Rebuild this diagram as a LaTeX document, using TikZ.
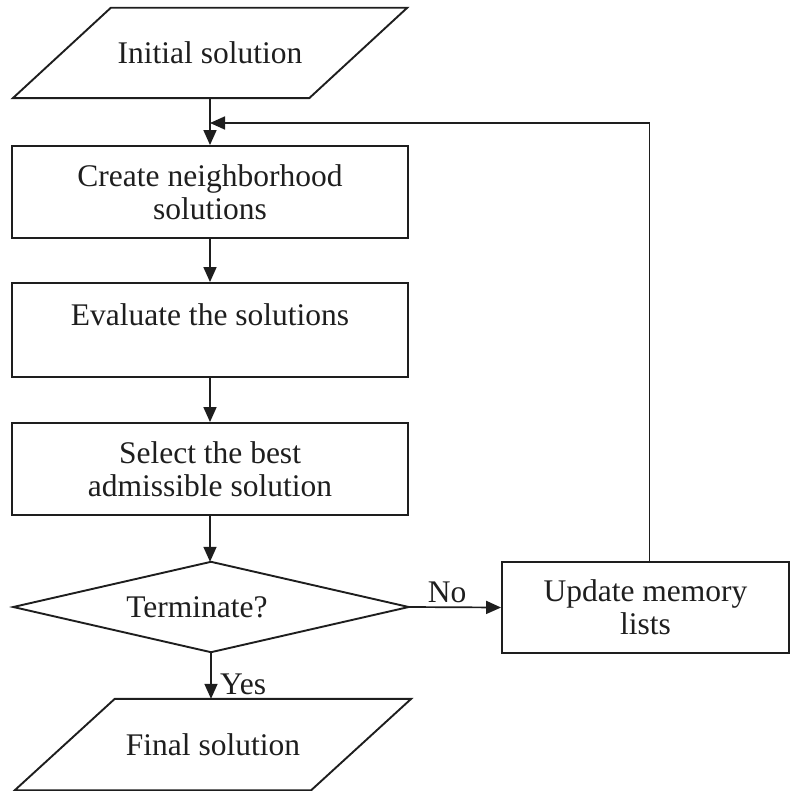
\documentclass[tikz,border=0pt]{standalone}
\usepackage{fontspec}
\setmainfont{Liberation Serif}
\usetikzlibrary{arrows.meta,calc}
\definecolor{ink}{HTML}{1E1E1E}
\begin{document}
\begin{tikzpicture}[x=1pt,y=-1pt,
  every node/.style={font=\fontsize{31.5}{33}\selectfont, text=ink},
  outline/.style={draw=ink, line width=1.9pt, line join=miter},
  stepbox/.style={outline, rectangle, minimum width=396pt, minimum height=92pt, inner sep=0pt, align=center},
  frame/.style={rectangle, minimum width=296pt, minimum height=90pt, inner sep=0pt, align=center},
  flow/.style={draw=ink, line width=1.7pt, -{Triangle[length=15pt,width=13pt]}},
  ]
\useasboundingbox (0,0) rectangle (791,791);

% input parallelogram
\node[frame] (init) at (210,53) {Initial solution};
\draw[outline] ($(init.north west)+(49,0)$) -- ($(init.north east)+(49,0)$)
  -- ($(init.south east)+(-49,0)$) -- ($(init.south west)+(-49,0)$) -- cycle;

% process steps
\node[stepbox] (create) at (210,192) {Create neighborhood\\solutions};
\node[stepbox, minimum height=94pt] (eval) at (210,330) {};
\node (evaltext) at ($(eval)+(0,-15)$) {Evaluate the solutions};
\node[stepbox] (select) at (210,469) {Select the best\\admissible solution};

% decision
\node[rectangle, minimum width=395pt, minimum height=90pt, inner sep=0pt] (term) at (211,607) {};
\draw[outline] (term.north) -- (term.east) -- (term.south) -- (term.west) -- cycle;
\node (termtext) at ($(term)+(-14,0)$) {Terminate?};

% memory update
\node[outline, rectangle, minimum width=287pt, minimum height=91pt, inner sep=0pt, align=center]
  (upd) at (645.5,607.5) {Update memory\\lists};

% output parallelogram
\node[frame, minimum height=91pt] (final) at (213,744.5) {Final solution};
\draw[outline] ($(final.north west)+(50,0)$) -- ($(final.north east)+(50,0)$)
  -- ($(final.south east)+(-50,0)$) -- ($(final.south west)+(-50,0)$) -- cycle;

% connectors
\coordinate (join) at (210,123);
\draw[flow] (init.south) -- (create.north);
\draw[flow] (create.south) -- (eval.north);
\draw[flow] (eval.south) -- (select.north);
\draw[flow] (select.south) -- (select.south |- term.north);
\draw[flow] (term.south) -- (term.south |- final.north);
\draw[flow] (term.east) -- (upd.west);
\draw[flow] ($(upd.north)+(4,0)$) |- (join);

% branch labels
\node (no) at (447,592) {No};
\node[anchor=west, inner sep=0pt] (yes) at (220,684) {Yes};
\end{tikzpicture}
\end{document}
